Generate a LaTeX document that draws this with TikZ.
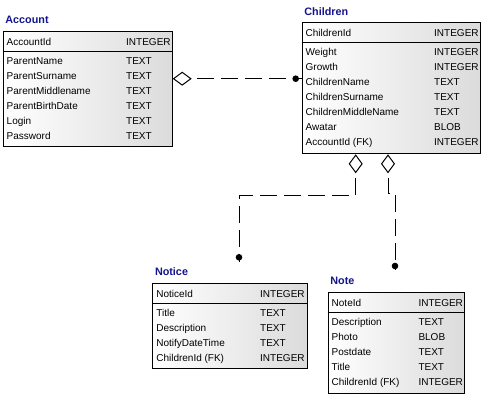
\documentclass[tikz,border=0pt]{standalone}
\usepackage{fontspec}
\setmainfont{Liberation Sans}
\usetikzlibrary{calc,arrows.meta}

\begin{document}
\begin{tikzpicture}[x=1pt, y=-1pt,
    tablebox/.style={draw, line width=1pt, left color=white, right color=black!14, inner sep=0pt},
    tabletitle/.style={anchor=base west, inner sep=0pt, text=titleblue, font=\bfseries\fontsize{10.8}{13}\selectfont},
    field/.style={anchor=base west, inner sep=0pt, font=\fontsize{10}{12}\selectfont},
    relline/.style={line width=1pt, dash pattern=on 17pt off 7pt, dash phase=18pt, arrows={Diamond[open, length=19pt, width=14pt]-}}]
    % Define colors
    \definecolor{titleblue}{RGB}{20,20,140} % Dark blue for the table names

    % Fix the page to the size of the picture
    \useasboundingbox (0,0) rectangle (491,401);

    % Define a macro to draw a table box with its title and the line under the key
    \def\drawTable#1#2#3#4#5#6{ % #1 = name, #2 = title, #3 = left x, #4 = top y, #5 = width, #6 = height
      \node[tablebox, minimum width=#5pt, minimum height=#6pt, anchor=north west] (#1) at (#3,#4) {};
      \node[tabletitle] (#1-title) at ($(#1.north west)+(2.5,-7)$) {#2};
      \draw[line width=1pt] ($(#1.north west)+(0,20.5)$) -- ($(#1.north east)+(0,20.5)$); % Line under the key
    }

    % Define a macro to write the fields, the first one is the key
    \def\drawFields#1#2#3{ % #1 = table name, #2 = type column offset, #3 = list name/type
      \foreach \fname/\ftype [count=\i from 0] in {#3} {
        \pgfmathsetmacro{\rowy}{\i==0 ? 14.5 : 18.5+15*\i} % Baseline of the row
        \node[field] (#1-f\i) at ($(#1.north west)+(3.8,\rowy)$) {\fname};
        \node[field] (#1-t\i) at ($(#1.north west)+(#2,\rowy)$) {\ftype};
      }
    }

    % Tables
    \drawTable{account}{Account}{2.7}{30.7}{169}{115}
    \drawFields{account}{123.3}{AccountId/INTEGER, ParentName/TEXT, ParentSurname/TEXT, ParentMiddlename/TEXT, ParentBirthDate/TEXT, Login/TEXT, Password/TEXT}

    \drawTable{children}{Children}{301.7}{22.3}{178.3}{131}
    \drawFields{children}{132.3}{ChildrenId/INTEGER, Weight/INTEGER, Growth/INTEGER, ChildrenName/TEXT, ChildrenSurname/TEXT, ChildrenMiddleName/TEXT, Awatar/BLOB, AccountId (FK)/INTEGER}

    \drawTable{notice}{Notice}{152.3}{282.7}{154.4}{85.6}
    \drawFields{notice}{107.7}{NoticeId/INTEGER, Title/TEXT, Description/TEXT, NotifyDateTime/TEXT, ChildrenId (FK)/INTEGER}

    \drawTable{note}{Note}{327.7}{291.7}{136.3}{101}
    \drawFields{note}{90.6}{NoteId/INTEGER, Description/TEXT, Photo/BLOB, Postdate/TEXT, Title/TEXT, ChildrenId (FK)/INTEGER}

    % Account - Children
    \coordinate (acc-out) at ($(account.north east)+(0,48)$);
    \coordinate (chi-in) at ($(children.north west)+(-6,56.4)$);
    \draw[relline] (acc-out) -- (chi-in);
    \fill (chi-in) circle[radius=3.3];
    \draw[line width=1pt] (chi-in) -- (chi-in -| children.west);

    % Children - Notice
    \coordinate (chi-out1) at ($(children.south west)+(54,0)$);
    \coordinate (ntc-bend) at ($(chi-out1)+(0,41.2)$);
    \coordinate (ntc-in) at ($(notice.north west)+(86.7,-25.4)$);
    \draw[relline] (chi-out1) -- (ntc-bend) -| (ntc-in);
    \fill (ntc-in) circle[radius=3.3];
    \draw[line width=1pt] (ntc-in) -- ++(0,4.5);

    % Children - Note
    \coordinate (chi-out2) at ($(children.south west)+(86.3,0)$);
    \coordinate (nte-bend) at ($(chi-out2)+(0,39)$);
    \coordinate (nte-in) at ($(note.north west)+(67.3,-25.7)$);
    \draw[relline] (chi-out2) -- (nte-bend) -| (nte-in);
    \fill (nte-in) circle[radius=3.3];
    \draw[line width=1pt] (nte-in) -- ++(0,4.5);
  \end{tikzpicture}
\end{document}
